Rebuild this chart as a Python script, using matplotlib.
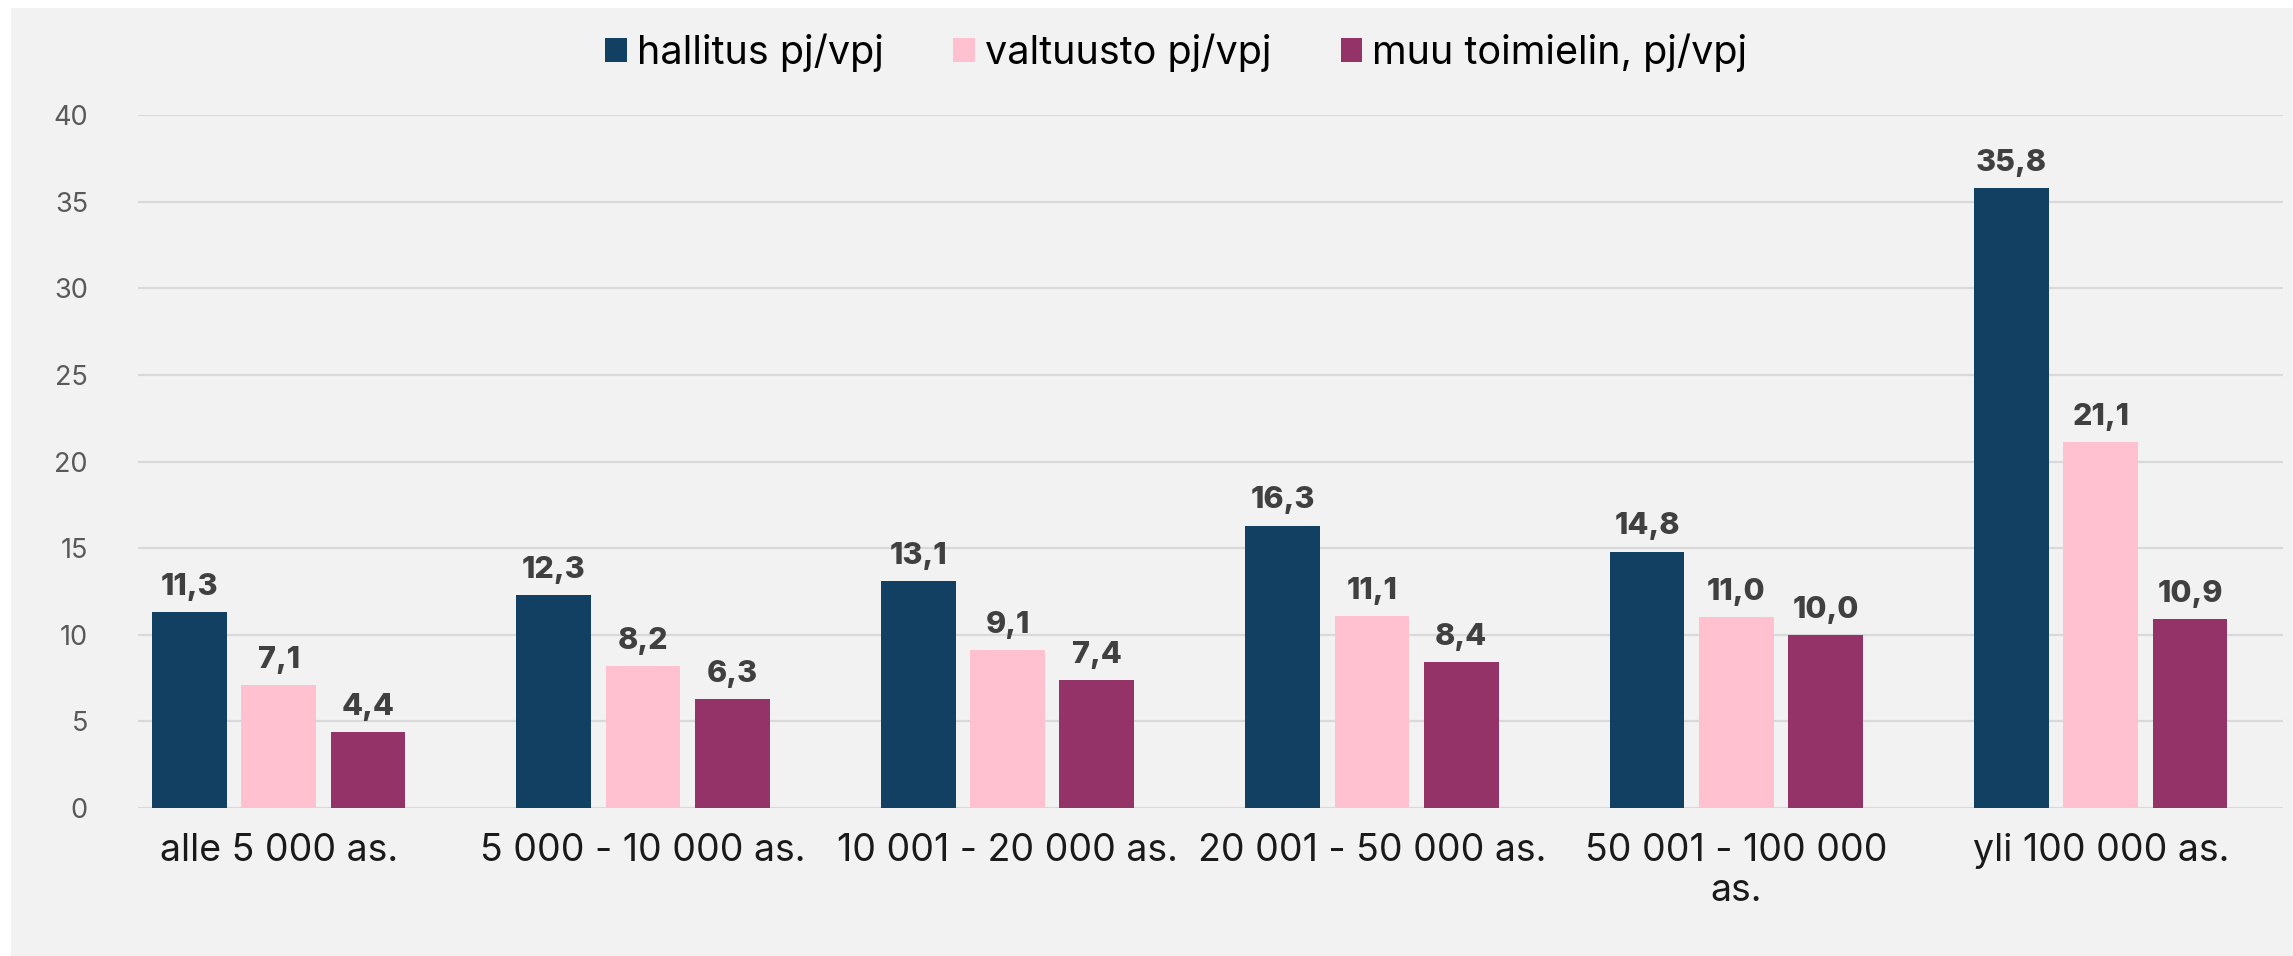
import matplotlib
matplotlib.use("Agg")
import matplotlib.pyplot as plt
import numpy as np
from matplotlib.patches import Rectangle

categories = ["alle 5 000 as.", "5 000 - 10 000 as.", "10 001 - 20 000 as.",
              "20 001 - 50 000 as.", "50 001 - 100 000\nas.", "yli 100 000 as."]
series_names = ["hallitus pj/vpj", "valtuusto pj/vpj", "muu toimielin, pj/vpj"]
hallitus = [11.3, 12.3, 13.1, 16.3, 14.8, 35.8]
valtuusto = [7.1, 8.2, 9.1, 11.1, 11.0, 21.1]
muu = [4.4, 6.3, 7.4, 8.4, 10.0, 10.9]
yticks = [0, 5, 10, 15, 20, 25, 30, 35, 40]

colors = ["#124062", "#ffc0cf", "#933367"]
bg = "#f2f2f2"

plt.rcParams['font.family'] = ['Inter', 'DejaVu Sans']

W, H = 2293, 956
fig = plt.figure(figsize=(W / 100, H / 100), dpi=100)
fig.patch.set_facecolor(bg)
# white strips at top and left edges
fig.add_artist(Rectangle((0, 1 - 8 / H), 1, 8 / H, transform=fig.transFigure,
                         facecolor="white", edgecolor="none", zorder=-1))
fig.add_artist(Rectangle((0, 0), 11 / W, 1, transform=fig.transFigure,
                         facecolor="white", edgecolor="none", zorder=-1))

left, right = 138 / W, 2283 / W
bottom, top = 1 - 808 / H, 1 - 115 / H
ax = fig.add_axes([left, bottom, right - left, top - bottom])
ax.set_facecolor(bg)

x = np.arange(len(categories))
bw = 0.205
step = 0.245
data = [hallitus, valtuusto, muu]
for i, (vals, col, name) in enumerate(zip(data, colors, series_names)):
    pos = x + (i - 1) * step
    bars = ax.bar(pos, vals, width=bw, color=col, label=name, zorder=3)
    for b, v in zip(bars, vals):
        ax.annotate(f"{v:.1f}".replace('.', ','),
                    (b.get_x() + b.get_width() / 2, v),
                    xytext=(0, 8), textcoords="offset points",
                    ha="center", va="bottom", fontsize=22, fontweight="heavy",
                    color="#404040")

ax.set_xlim(-0.386, 5.5)
ax.set_ylim(0, 40)
ax.set_yticks(yticks)
ax.set_yticklabels([str(t) for t in yticks], fontsize=19.5, color="#595959")
ax.set_xticks(x)
ax.set_xticklabels(categories, fontsize=27, color="#1a1a1a", linespacing=1.15)
ax.tick_params(axis='both', length=0)
ax.tick_params(axis='x', pad=18)
ax.tick_params(axis='y', pad=36)
ax.grid(axis='y', color="#d9d9d9", linewidth=1.6, zorder=0)
ax.set_axisbelow(True)
for s in ax.spines.values():
    s.set_visible(False)

leg = fig.legend(loc="center", bbox_to_anchor=(0.513, 1 - 53 / H), ncol=3,
                 frameon=False, fontsize=28.5, handlelength=0.55, handleheight=0.55,
                 handletextpad=0.25, columnspacing=1.75)

fig.savefig("out.png", dpi=100, facecolor=fig.get_facecolor())
